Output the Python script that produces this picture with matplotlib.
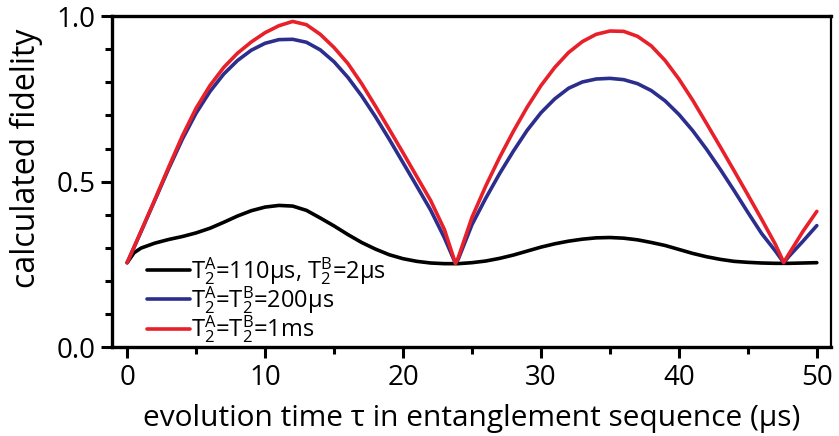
import matplotlib
matplotlib.use("Agg")
import matplotlib.pyplot as plt
from matplotlib.ticker import MultipleLocator

plt.rcParams['font.family'] = ['Open Sans', 'DejaVu Sans']
plt.rcParams['mathtext.fontset'] = 'custom'
plt.rcParams['mathtext.rm'] = 'Open Sans'
plt.rcParams['mathtext.it'] = 'Open Sans'

# Values
x_red = [0, 1, 2, 3, 4, 5, 6, 7, 8, 9, 10, 11, 12, 13, 14, 15, 16, 17, 18, 19, 20, 21, 22, 23, 23.8,
         24, 25, 26, 27, 28, 29, 30, 31, 32, 33, 34, 35, 36, 37, 38, 39, 40, 41, 42, 43, 44, 45, 46, 47, 47.6,
         48, 49, 50]
y_red = [0.255, 0.350, 0.445, 0.543, 0.638, 0.722, 0.790, 0.845, 0.888, 0.922, 0.950, 0.971, 0.984, 0.974,
         0.945, 0.905, 0.857, 0.796, 0.728, 0.658, 0.587, 0.515, 0.443, 0.355, 0.253,
         0.270, 0.392, 0.487, 0.573, 0.652, 0.725, 0.790, 0.845, 0.890, 0.923, 0.945, 0.955, 0.954, 0.939,
         0.910, 0.866, 0.810, 0.746, 0.676, 0.605, 0.533, 0.460, 0.386, 0.310, 0.256,
         0.283, 0.350, 0.410]

x_blue = x_red
y_blue = [0.255, 0.348, 0.443, 0.538, 0.628, 0.707, 0.772, 0.825, 0.866, 0.897, 0.918, 0.929, 0.930, 0.921,
          0.898, 0.862, 0.815, 0.759, 0.696, 0.628, 0.557, 0.486, 0.414, 0.330, 0.253,
          0.265, 0.370, 0.450, 0.524, 0.592, 0.655, 0.708, 0.750, 0.782, 0.801, 0.810, 0.812, 0.808, 0.796,
          0.775, 0.744, 0.703, 0.654, 0.598, 0.537, 0.473, 0.407, 0.343, 0.290, 0.255,
          0.275, 0.320, 0.367]

x_black = [0, 0.5, 1, 2, 3, 4, 5, 6, 7, 8, 9, 10, 11, 12, 13, 14, 15, 16, 17, 18, 19, 20, 21, 22, 23, 24,
           25, 26, 27, 28, 29, 30, 31, 32, 33, 34, 35, 36, 37, 38, 39, 40, 41, 42, 43, 44, 45, 46, 47, 48,
           49, 50]
y_black = [0.255, 0.285, 0.299, 0.314, 0.325, 0.334, 0.345, 0.359, 0.377, 0.396, 0.412, 0.423, 0.428, 0.426,
           0.413, 0.390, 0.366, 0.340, 0.316, 0.296, 0.279, 0.267, 0.259, 0.254, 0.252, 0.252,
           0.255, 0.260, 0.268, 0.278, 0.290, 0.302, 0.312, 0.320, 0.326, 0.330, 0.331, 0.329, 0.324, 0.316,
           0.307, 0.295, 0.283, 0.273, 0.265, 0.259, 0.256, 0.254, 0.253, 0.253, 0.254, 0.255]

labels = [r"T$_2^\mathrm{A}$=110μs, T$_2^\mathrm{B}$=2μs",
          r"T$_2^\mathrm{A}$=T$_2^\mathrm{B}$=200μs",
          r"T$_2^\mathrm{A}$=T$_2^\mathrm{B}$=1ms"]

fig = plt.figure(figsize=(8.39, 4.36), dpi=100)
ax = fig.add_axes([0.1335, 0.204, 0.8565, 0.759])

line_kw = dict(lw=2.6, solid_joinstyle='round', solid_capstyle='round')
ax.plot(x_black, y_black, color='black', label=labels[0], **line_kw)
ax.plot(x_blue, y_blue, color='#2b2e8c', label=labels[1], **line_kw)
ax.plot(x_red, y_red, color='#e8202a', label=labels[2], **line_kw)

ax.set_xlim(-1.1, 51)
ax.set_ylim(0, 1)
ax.xaxis.set_major_locator(MultipleLocator(10))
ax.xaxis.set_minor_locator(MultipleLocator(5))
ax.yaxis.set_major_locator(MultipleLocator(0.5))
ax.yaxis.set_minor_locator(MultipleLocator(0.1))
ax.tick_params(which='major', length=8, width=2.2, labelsize=20, direction='out', pad=4)
ax.tick_params(which='minor', length=5, width=2.2, direction='out')
for side in ['left', 'bottom', 'top']:
    ax.spines[side].set_linewidth(2.4)
ax.spines['right'].set_linewidth(1.6)

ax.set_xlabel("evolution time τ in entanglement sequence (μs)", fontsize=21.5, labelpad=9)
ax.set_ylabel("calculated fidelity", fontsize=23)
ax.yaxis.set_label_coords(-0.096, 0.571)

ax.legend(loc='lower left', bbox_to_anchor=(0.049, 0.005), frameon=False, fontsize=17,
          handlelength=1.8, handletextpad=0.05, labelspacing=-0.1, borderpad=0,
          borderaxespad=0)

fig.savefig("out.png", dpi=100)
